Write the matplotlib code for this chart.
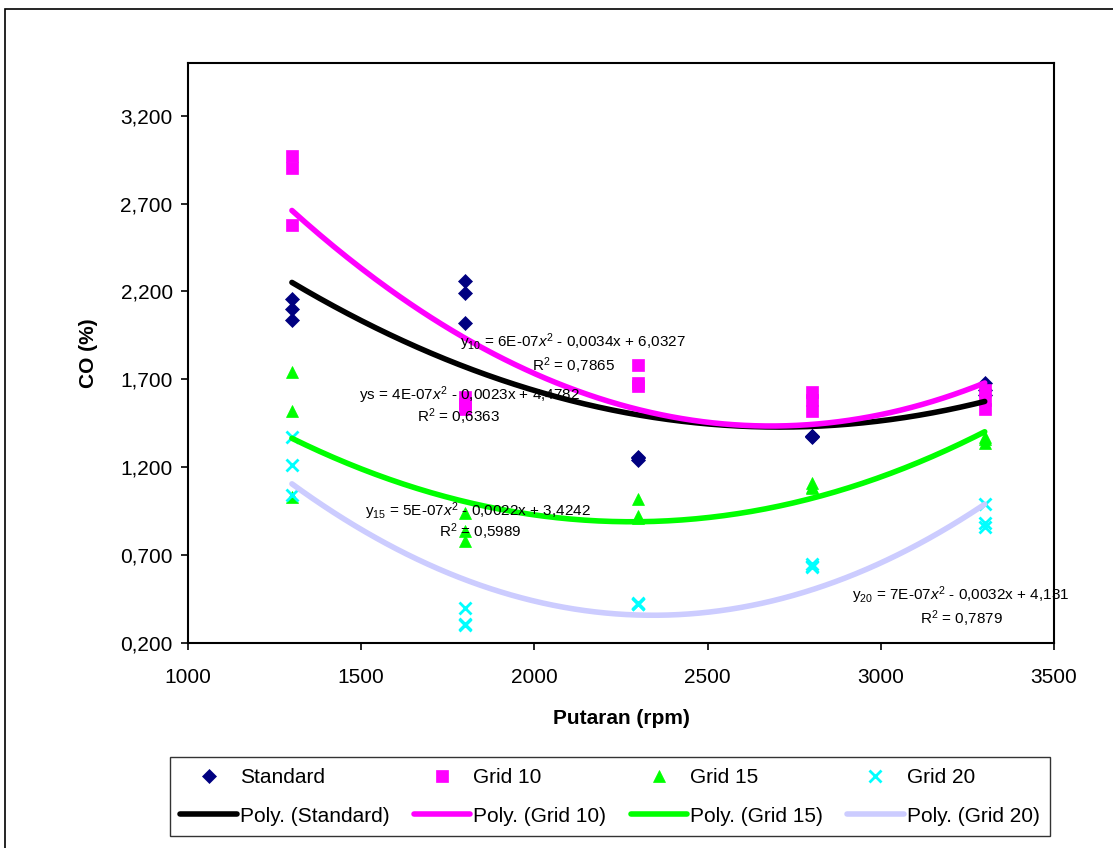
import numpy as np
import matplotlib
matplotlib.use("Agg")
from matplotlib import pyplot as plt
from matplotlib.ticker import FuncFormatter
from matplotlib.patches import Rectangle

plt.rcParams['font.family'] = ['Liberation Sans', 'DejaVu Sans']
plt.rcParams['mathtext.fontset'] = 'custom'
plt.rcParams['mathtext.rm'] = 'Liberation Sans'
plt.rcParams['mathtext.it'] = 'Liberation Sans:italic'

# data (3 replicates per rpm)
rpm = [1300, 1800, 2300, 2800, 3300]
standard = [[2.16, 2.10, 2.04], [2.26, 2.19, 2.02], [1.26, 1.24, 1.25],
            [1.37, 1.38, 1.38], [1.68, 1.64, 1.61]]
grid10 = [[2.97, 2.90, 2.58], [1.60, 1.56, 1.53], [1.78, 1.68, 1.66],
          [1.63, 1.58, 1.52], [1.64, 1.58, 1.53]]
grid15 = [[1.74, 1.52, 1.03], [0.94, 0.84, 0.78], [1.02, 0.92, 0.91],
          [1.11, 1.09, 1.08], [1.37, 1.34, 1.36]]
grid20 = [[1.37, 1.21, 1.04], [0.40, 0.30, 0.31], [0.43, 0.42, 0.42],
          [0.65, 0.63, 0.64], [0.99, 0.88, 0.86]]

names = ['Standard', 'Grid 10', 'Grid 15', 'Grid 20']
series = [standard, grid10, grid15, grid20]
markers = ['D', 's', '^', 'x']
msizes = [7.5, 8, 9, 9]
mcolors = ['#000080', '#FF00FF', '#00FF00', '#00FFFF']
lcolors = ['#000000', '#FF00FF', '#00FF00', '#CCCCFF']

# trendline labels: (equation, x, y, r2 text, x, y)
equations = [
    ("ys = 4E-07$x^2$ - 0,0023x + 4,4782", 1814, 1.611, "R$^2$ = 0,6363", 1780, 1.486),
    ("y$_{10}$ = 6E-07$x^2$ - 0,0034x + 6,0327", 2111, 1.913, "R$^2$ = 0,7865", 2114, 1.777),
    ("y$_{15}$ = 5E-07$x^2$ - 0,0022x + 3,4242", 1837, 0.951, "R$^2$ = 0,5989", 1843, 0.832),
    ("y$_{20}$ = 7E-07$x^2$ - 0,0032x + 4,131", 3232, 0.473, "R$^2$ = 0,7879", 3234, 0.337),
]

fig = plt.figure(figsize=(11.13, 8.48), dpi=100)
fig.patches.append(Rectangle((5 / 1113, -0.1), 1.2, (848 - 9) / 848 + 0.1,
                             transform=fig.transFigure, fill=False,
                             edgecolor='black', linewidth=1.2))
ax = fig.add_axes([188 / 1113, 1 - 643 / 848, 866 / 1113, 580 / 848])

scatter_h, line_h = [], []
for name, data, mk, ms, mc in zip(names, series, markers, msizes, mcolors):
    xs = np.repeat(rpm, 3)
    ys = np.array(data).ravel()
    h, = ax.plot(xs, ys, linestyle='none', marker=mk, markersize=ms,
                 color=mc, markeredgewidth=2 if mk == 'x' else 0.5,
                 label=name, zorder=3)
    scatter_h.append(h)

for name, data, lc in zip(names, series, lcolors):
    xs = np.repeat(rpm, 3)
    ys = np.array(data).ravel()
    coef = np.polyfit(xs, ys, 2)
    xx = np.linspace(rpm[0], rpm[-1], 200)
    h, = ax.plot(xx, np.polyval(coef, xx), color=lc, linewidth=4,
                 label='Poly. (%s)' % name, zorder=4, solid_capstyle='round')
    line_h.append(h)

for eq, ex, ey, r2, rx, ry in equations:
    ax.text(ex, ey, eq, fontsize=11, ha='center', va='center', zorder=5)
    ax.text(rx, ry, r2, fontsize=11, ha='center', va='center', zorder=5)

ax.set_xlim(1000, 3500)
ax.set_ylim(0.2, 3.5)
ax.set_xticks([1000, 1500, 2000, 2500, 3000, 3500])
ax.set_yticks(np.arange(0.2, 3.3, 0.5))
ax.yaxis.set_major_formatter(FuncFormatter(lambda v, p: ('%.3f' % v).replace('.', ',')))
ax.tick_params(axis='both', direction='out', length=5, width=1.2,
               labelsize=15, pad=6)
ax.tick_params(axis='x', pad=13)
for s in ax.spines.values():
    s.set_linewidth(1.5)

ax.set_xlabel('Putaran (rpm)', fontsize=15, fontweight='bold', labelpad=16)
ax.set_ylabel('CO (%)', fontsize=15, fontweight='bold', labelpad=16)

handles = []
for s, l in zip(scatter_h, line_h):
    handles += [s, l]
leg = fig.legend(handles=handles, loc='lower left', ncol=4, mode='expand',
                 bbox_to_anchor=(170 / 1113, 12 / 848, 880 / 1113, 79 / 848),
                 fontsize=15, frameon=True, fancybox=False, handlelength=2.7,
                 handletextpad=0.15, borderaxespad=0, labelspacing=0.95,
                 borderpad=0.5, columnspacing=0.5)
leg.get_frame().set_edgecolor('black')
leg.get_frame().set_linewidth(1.0)

fig.savefig('out.png', dpi=100)
